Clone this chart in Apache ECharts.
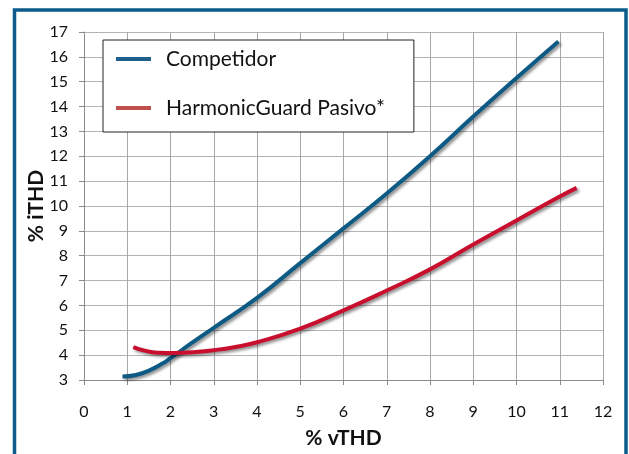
<!DOCTYPE html>
<html>
<head>
<meta charset="utf-8">
<script src="https://cdn.jsdelivr.net/npm/echarts@6/dist/echarts.min.js"></script>
<style>html,body{margin:0;padding:0;background:#fff;}#c{width:629px;height:454px;}</style>
</head>
<body>
<div id="c"></div>
<script>
var seriesNames = ['Competidor', 'HarmonicGuard Pasivo*'];
var competidorX = [0.89, 1.2, 1.5, 1.8, 2.0, 2.5, 3.0, 4.0, 5.0, 6.0, 7.0, 8.0, 9.0, 10.0, 10.97];
var competidorY = [3.14, 3.2, 3.38, 3.65, 3.88, 4.5, 5.1, 6.3, 7.7, 9.1, 10.5, 12.0, 13.6, 15.15, 16.62];
var pasivoX = [1.14, 1.4, 1.7, 2.1, 2.5, 3.0, 3.5, 4.0, 5.0, 6.0, 7.0, 8.0, 9.0, 10.0, 11.0, 11.39];
var pasivoY = [4.32, 4.18, 4.1, 4.09, 4.12, 4.2, 4.33, 4.52, 5.07, 5.8, 6.6, 7.45, 8.45, 9.42, 10.38, 10.73];
var xTicks = [0, 12, 1];
var yTicks = [3, 17, 1];
var xTitle = '% vTHD';
var yTitle = '% iTHD';

function pairs(xs, ys) { return xs.map(function (x, i) { return [x, ys[i]]; }); }

var chart = echarts.init(document.getElementById('c'), null, { renderer: 'canvas' });
var font = 'Lato, "Open Sans", sans-serif';
var shadow = { shadowColor: 'rgba(0,0,0,0.45)', shadowBlur: 3, shadowOffsetX: 2, shadowOffsetY: 2 };
chart.setOption({
  animation: false,
  backgroundColor: '#fff',
  textStyle: { fontFamily: font },
  grid: { left: 84, right: 26, top: 32, bottom: 66, containLabel: false },
  xAxis: {
    type: 'value', min: xTicks[0], max: xTicks[1], interval: xTicks[2],
    name: xTitle, nameLocation: 'middle', nameGap: 48,
    nameTextStyle: { fontSize: 21, fontWeight: 'bold', color: '#111', fontFamily: font },
    axisLine: { show: true, lineStyle: { color: '#8a8a8a', width: 1 } },
    axisTick: { show: true, length: 5, lineStyle: { color: '#8a8a8a' } },
    axisLabel: { fontSize: 16, color: '#111', margin: 24, fontFamily: font },
    splitLine: { show: true, lineStyle: { color: '#a8a8a8', width: 1 } }
  },
  yAxis: {
    type: 'value', min: yTicks[0], max: yTicks[1], interval: yTicks[2],
    name: yTitle, nameLocation: 'middle', nameGap: 37, nameMoveOverlap: false,
    nameTextStyle: { fontSize: 21, fontWeight: 'bold', color: '#111', fontFamily: font },
    axisLine: { show: true, lineStyle: { color: '#8a8a8a', width: 1 } },
    axisTick: { show: true, length: 5, lineStyle: { color: '#8a8a8a' } },
    axisLabel: { fontSize: 16, color: '#111', margin: 16, fontFamily: font },
    splitLine: { show: true, lineStyle: { color: '#b4b4b4', width: 1 } }
  },
  legend: {
    orient: 'vertical', left: 103, top: 40,
    backgroundColor: '#fff', borderColor: '#222', borderWidth: 1,
    padding: [7, 29, 12, 13], itemGap: 25,
    itemWidth: 35, itemHeight: 4, icon: 'rect',
    textStyle: { fontSize: 21, color: '#111', fontFamily: font, padding: [0, 0, 0, 10], lineHeight: 24 },
    data: [
      { name: seriesNames[0], itemStyle: { color: '#1f5f8b' } },
      { name: seriesNames[1], itemStyle: { color: '#c0504d' } }
    ]
  },
  graphic: [{
    type: 'rect', silent: true, z: 100,
    shape: { x: 14.5, y: 10, width: 611.5, height: 520 },
    style: { fill: 'none', stroke: '#0d5b8c', lineWidth: 3.5 }
  }],
  series: [
    {
      name: seriesNames[0], type: 'line', smooth: true, showSymbol: false, symbol: 'none',
      data: pairs(competidorX, competidorY),
      itemStyle: { color: '#0d5a85' },
      lineStyle: Object.assign({ color: '#0d5a85', width: 4 }, shadow)
    },
    {
      name: seriesNames[1], type: 'line', smooth: true, showSymbol: false, symbol: 'none',
      data: pairs(pasivoX, pasivoY),
      itemStyle: { color: '#c8102e' },
      lineStyle: Object.assign({ color: '#c8102e', width: 4 }, shadow)
    }
  ]
});
</script>
</body>
</html>
